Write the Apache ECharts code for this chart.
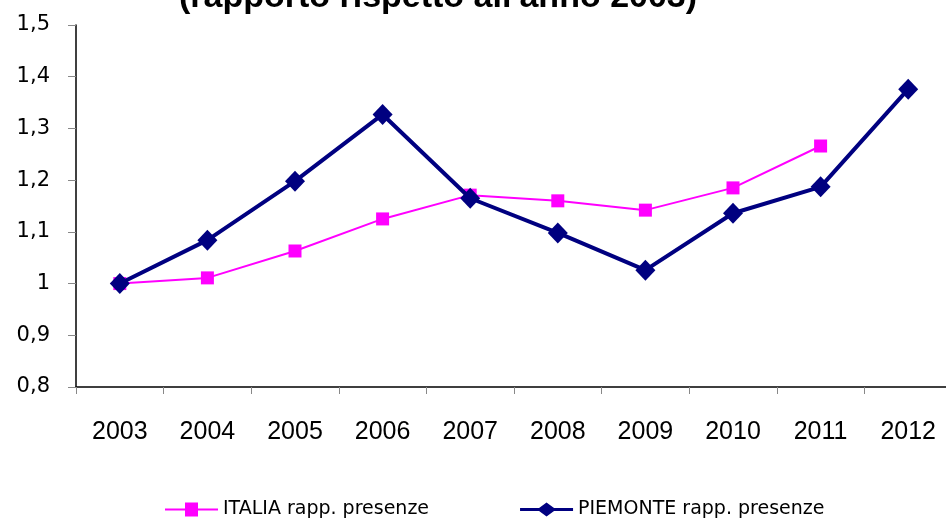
<!DOCTYPE html>
<html><head><meta charset="utf-8">
<script src="https://cdn.jsdelivr.net/npm/echarts@6/dist/echarts.min.js"></script>
<style>html,body{margin:0;padding:0;background:#fff}#c{width:946px;height:525px}</style>
</head><body><div id="c"></div>
<script>
const categories = ['2003','2004','2005','2006','2007','2008','2009','2010','2011','2012'];
const italia = [1.0, 1.011, 1.063, 1.125, 1.171, 1.160, 1.142, 1.185, 1.266, null];
const piemonte = [1.0, 1.084, 1.198, 1.327, 1.165, 1.098, 1.026, 1.136, 1.187, 1.376];
const yTicks = [0.8, 0.9, 1.0, 1.1, 1.2, 1.3, 1.4, 1.5];
const titleText = "(rapporto rispetto all'anno 2003)";

const chart = echarts.init(document.getElementById('c'), null, {renderer:'canvas'});
chart.setOption({
  animation:false,
  title:{text:titleText, left:433, textAlign:'center', top:-24,
    textStyle:{fontFamily:'Liberation Sans', fontWeight:'bold', fontSize:34, color:'#000'}},
  grid:{left:76, width:876, top:25, bottom:138, containLabel:false, outerBoundsMode:'none'},
  legend:{bottom:1, left:160, itemGap:91, itemWidth:53, itemHeight:14,
    textStyle:{fontFamily:'DejaVu Sans', fontSize:19, color:'#000'},
    data:[{name:'ITALIA rapp. presenze', icon:'path://M0,6 L20,6 L20,0 L33,0 L33,6 L53,6 L53,8 L33,8 L33,14 L20,14 L20,8 L0,8 Z'},
          {name:'PIEMONTE rapp. presenze', icon:'path://M0,5.5 L19,5.5 L26.5,0 L34,5.5 L53,5.5 L53,8.5 L34,8.5 L26.5,14 L19,8.5 L0,8.5 Z'}]},
  xAxis:{type:'category', data:categories, boundaryGap:true,
    axisLine:{lineStyle:{color:'#000', width:1.5}},
    axisTick:{show:true, length:7, lineStyle:{color:'#888'}, alignWithLabel:false},
    axisLabel:{margin:33, fontFamily:'Liberation Sans', fontSize:25, color:'#000'},
    splitLine:{show:false}},
  yAxis:{type:'value', min:0.8, max:1.5, interval:0.1,
    axisLine:{show:true, lineStyle:{color:'#000', width:1.5}},
    axisTick:{show:true, length:8, lineStyle:{color:'#888'}},
    axisLabel:{margin:26, fontFamily:'DejaVu Sans', fontSize:21, color:'#000',
      formatter:v=>{const r=Math.round(v*10)/10; return (r===1?'1':r.toFixed(1)).replace('.',',');}},
    splitLine:{show:false}},
  series:[
    {name:'ITALIA rapp. presenze', type:'line', data:italia, symbol:'rect', symbolSize:13,
      lineStyle:{color:'#FF00FF', width:2}, itemStyle:{color:'#FF00FF'}, z:2},
    {name:'PIEMONTE rapp. presenze', type:'line', data:piemonte, symbol:'diamond', symbolSize:[20,21],
      lineStyle:{color:'#000080', width:4}, itemStyle:{color:'#000080'}, z:3}
  ]
});
</script></body></html>
